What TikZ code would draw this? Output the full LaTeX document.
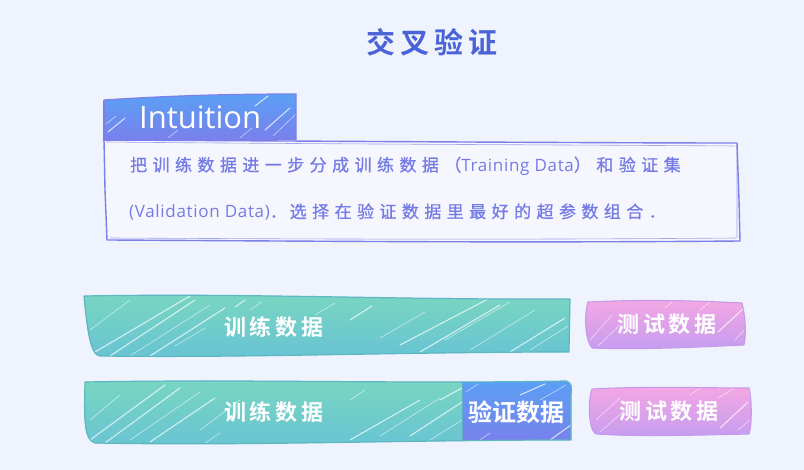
\documentclass[tikz,border=0pt]{standalone}
\usepackage{fontspec}
\newfontfamily\cjk{Noto Sans CJK SC}
\newfontfamily\cjksp{Noto Sans CJK SC}[LetterSpace=32,FakeBold=0.8]
\newfontfamily\cjkb{Noto Sans CJK SC Bold}
\newfontfamily\cjkbsp{Noto Sans CJK SC Bold}[LetterSpace=18]
\newfontfamily\latin{Open Sans}
\newfontfamily\latinsp{Open Sans}[LetterSpace=4]
\definecolor{bg}{HTML}{EFF3FD}
\definecolor{titlec}{HTML}{4A63D8}
\definecolor{blueTop}{HTML}{58A2F6}
\definecolor{blueBot}{HTML}{7C7DEA}
\definecolor{boxline}{HTML}{7C80E6}
\definecolor{boxfill}{HTML}{F5F6FE}
\definecolor{txtc}{HTML}{747BE5}
\definecolor{greenTop}{HTML}{7AD7C0}
\definecolor{greenBot}{HTML}{67C3D3}
\definecolor{greenLine}{HTML}{5DB6C2}
\definecolor{pinkTop}{HTML}{F8A8E2}
\definecolor{pinkBot}{HTML}{C39CF0}
\definecolor{pinkLine}{HTML}{C49AEC}
\newcommand{\cj}[1]{{\cjksp\fontsize{17}{17}\selectfont #1}}
\newcommand{\lt}[1]{{\latinsp\fontsize{17}{17}\selectfont #1}}
\tikzset{
  hatch/.style={white, line width=1.1pt, opacity=0.7, line cap=round},
  hatchthin/.style={white, line width=0.6pt, opacity=0.6, line cap=round},
  label/.style={text=white, font=\cjkbsp\fontsize{22}{22}\selectfont, inner sep=0pt},
  bodytext/.style={text=txtc, anchor=west, inner sep=0pt},
}
\begin{document}
\begin{tikzpicture}[x=1pt,y=-1pt]
\fill[bg] (0,0) rectangle (804,470);
\useasboundingbox (0,0) rectangle (804,470);

% title
\node[text=titlec, font=\cjkb\fontsize{29}{29}\selectfont, inner sep=0pt] (title) at (432,42) {交\,叉\,验\,证};

% main description box
\filldraw[fill=boxfill, draw=boxline, line width=1.4pt, line join=round]
  (104,140) .. controls (300,141) and (600,143) .. (737,143)
  -- (739,200) -- (740,241)
  .. controls (500,243) and (300,241) .. (107,240)
  -- (105,190) -- cycle;
\draw[boxline, line width=0.6pt, opacity=0.7]
  (106,142) .. controls (300,144) and (600,145) .. (735,146)
  (737,146) -- (737,238)
  (110,238) .. controls (300,239) and (500,240) .. (736,238);

% Intuition tab
\begin{scope}
  \clip (104,100) .. controls (180,95) and (240,94) .. (296,94) -- (296,140) -- (104,141) -- cycle;
  \shade[top color=blueTop, bottom color=blueBot] (100,90) rectangle (300,145);
  \draw[hatch] (108,132) -- (125,118);
  \draw[hatchthin] (106,124) -- (116,116);
  \draw[hatch] (265,130) -- (290,108);
  \draw[hatchthin] (273,136) -- (296,114);
  \draw[hatchthin] (168,138) -- (178,130);
  \draw[hatchthin] (240,138) -- (252,128);
  \draw[hatch] (255,106) -- (268,96);
\end{scope}
\draw[boxline, line width=1.2pt] (104,100) .. controls (180,95) and (240,94) .. (296,94) -- (296,140);
\draw[boxline, line width=1.2pt] (104,100) -- (104,141);
\node[text=white, font=\latin\fontsize{31}{31}\selectfont, inner sep=0pt, anchor=west] (intuition) at (139,117) {Intuition};

\node[bodytext] (line1) at (130,166) {\cj{把训练数据进一步分成训练数据（}\lt{Training Data}\cj{）和验证集}};
\node[bodytext] (line2) at (129,212) {\lt{(Validation Data)}\cj{．\,选择在验证数据里最好的超参数组合．}};

% green bar 1
\def\barA{(84,296) .. controls (250,293) and (400,300) .. (570,299) -- (569,352) .. controls (400,352) and (250,358) .. (100,356) .. controls (92,355) and (88,340) .. (84,296) -- cycle}
\begin{scope}
  \clip \barA;
  \shade[top color=greenTop, bottom color=greenBot] (80,290) rectangle (575,360);
  \draw[hatch] (95,352) -- (190,296);
  \draw[hatch] (110,356) -- (195,300);
  \draw[hatchthin] (90,330) -- (130,300);
  \draw[hatchthin] (130,356) -- (210,305);
  \draw[hatch] (150,356) -- (225,308);
  \draw[hatchthin] (175,346) -- (205,328);
  \draw[hatch] (235,307) -- (245,300);
  \draw[hatchthin] (250,310) -- (262,302);
  \draw[hatch] (400,345) -- (490,298);
  \draw[hatch] (420,352) -- (500,305);
  \draw[hatchthin] (380,338) -- (425,312);
  \draw[hatchthin] (445,340) -- (510,302);
  \draw[hatchthin] (470,350) -- (535,310);
  \draw[hatch] (510,352) -- (565,318);
  \draw[hatchthin] (530,350) -- (568,326);
  \draw[hatchthin] (315,315) -- (335,303);
  \draw[hatch] (350,320) -- (372,306);
\end{scope}
\draw[greenLine, line width=1.2pt, line join=round] \barA;
\node[label] (trainA) at (274,327) {训练数据};

% pink box 1
\def\pinkA{(588,302) .. controls (650,299) and (700,301) .. (742,303) .. controls (746,320) and (746,335) .. (744,345) .. controls (700,347) and (640,350) .. (592,348) .. controls (585,340) and (584,315) .. (588,302) -- cycle}
\begin{scope}
  \clip \pinkA;
  \shade[top color=pinkTop, bottom color=pinkBot] (580,295) rectangle (750,352);
  \draw[hatchthin] (590,340) -- (612,315);
  \draw[hatchthin] (598,346) -- (620,325);
  \draw[hatch] (718,332) -- (744,308);
  \draw[hatchthin] (735,340) -- (748,326);
  \draw[hatchthin] (665,308) -- (672,302);
  \draw[hatchthin] (700,310) -- (710,302);
\end{scope}
\draw[pinkLine, line width=1.1pt, line join=round] \pinkA;
\node[label] (testA) at (667,324) {测试数据};

% green bar 2 + validation part
\def\barB{(85,382) .. controls (250,379) and (400,384) .. (566,381) .. controls (572,382) and (572,388) .. (571,395) -- (571,440) .. controls (400,440) and (250,446) .. (95,443) .. controls (84,440) and (84,420) .. (85,382) -- cycle}
\begin{scope}
  \clip \barB;
  \shade[top color=greenTop, bottom color=greenBot] (80,375) rectangle (575,450);
  \draw[hatch] (90,440) -- (165,385);
  \draw[hatch] (105,443) -- (180,388);
  \draw[hatchthin] (90,420) -- (120,395);
  \draw[hatchthin] (130,440) -- (200,392);
  \draw[hatch] (150,442) -- (215,398);
  \draw[hatchthin] (200,430) -- (240,400);
  \draw[hatchthin] (205,443) -- (220,433);
  \draw[hatchthin] (350,400) -- (365,390);
  \draw[hatch] (350,440) -- (420,400);
  \draw[hatchthin] (380,436) -- (440,398);
  \draw[hatch] (410,436) -- (462,402);
  \draw[hatchthin] (430,440) -- (462,420);
  \draw[hatch] (440,400) -- (462,388);
  % validation part
  \shade[top color=blueTop, bottom color=blueBot] (462,375) rectangle (575,450);
  \draw[hatchthin] (466,392) -- (478,384);
  \draw[hatch] (520,395) -- (545,384);
  \draw[hatchthin] (540,400) -- (566,385);
  \draw[hatch] (550,440) -- (571,425);
  \draw[hatchthin] (480,440) -- (490,433);
\end{scope}
\draw[greenLine!80!blueBot, line width=0.8pt] (462,384) -- (462,441);
\draw[greenLine, line width=1.2pt, line join=round] \barB;
\node[label] (trainB) at (274,412) {训练数据};
\node[label, font=\cjkb\fontsize{24}{24}\selectfont] (valB) at (516,412) {验证数据};

% pink box 2
\def\pinkB{(592,389) .. controls (650,386) and (700,388) .. (749,388) .. controls (752,400) and (752,425) .. (749,434) .. controls (700,435) and (640,437) .. (596,434) .. controls (588,430) and (588,400) .. (592,389) -- cycle}
\begin{scope}
  \clip \pinkB;
  \shade[top color=pinkTop, bottom color=pinkBot] (585,382) rectangle (755,440);
  \draw[hatchthin] (596,420) -- (620,398);
  \draw[hatchthin] (600,432) -- (625,410);
  \draw[hatch] (720,428) -- (748,402);
  \draw[hatchthin] (738,430) -- (750,420);
  \draw[hatchthin] (690,395) -- (700,388);
  \draw[hatchthin] (718,398) -- (735,388);
\end{scope}
\draw[pinkLine, line width=1.1pt, line join=round] \pinkB;
\node[label] (testB) at (669,411) {测试数据};
\end{tikzpicture}
\end{document}
